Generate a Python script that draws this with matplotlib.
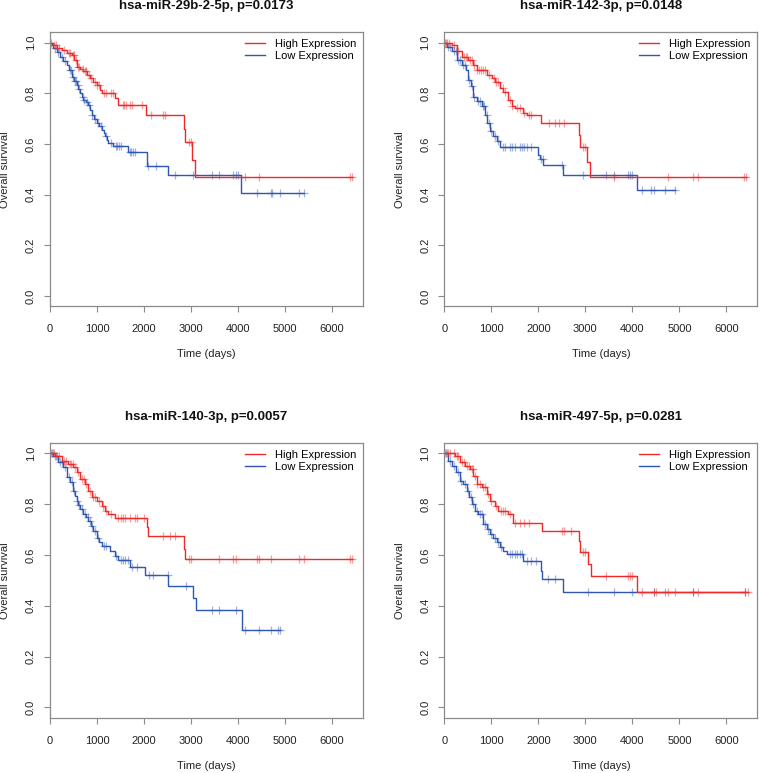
import numpy as np
import matplotlib
matplotlib.use("Agg")
import matplotlib.pyplot as plt

plt.rcParams['font.family'] = ['Liberation Sans', 'DejaVu Sans']

titles = ["hsa-miR-29b-2-5p, p=0.0173", "hsa-miR-142-3p, p=0.0148",
          "hsa-miR-140-3p, p=0.0057", "hsa-miR-497-5p, p=0.0281"]
legend_labels = ["High Expression", "Low Expression"]
x_ticks = [0, 1000, 2000, 3000, 4000, 5000, 6000]
y_ticks = [0.0, 0.2, 0.4, 0.6, 0.8, 1.0]

# hsa-miR-29b-2-5p
hi1_t = [60, 150, 250, 354, 460, 520, 567, 640, 708, 780, 850, 920, 990, 1062, 1110, 1380, 1450, 2040, 2860, 2880, 3010, 3080]
hi1_s = [0.99, 0.98, 0.97, 0.96, 0.95, 0.93, 0.905, 0.895, 0.886, 0.873, 0.86, 0.846, 0.833, 0.814, 0.80, 0.78, 0.755, 0.715, 0.66, 0.606, 0.535, 0.47]
hi1_c = [30, 80, 120, 200, 300, 400, 430, 480, 500, 550, 600, 620, 700, 750, 770, 820, 880, 950, 1000, 1050, 1150, 1200, 1300, 1350,
         1550, 1580, 1620, 1700, 1750, 1950, 2150, 2400, 2450, 2950, 3000, 4150, 4450, 6380, 6420]
lo1_t = [40, 71, 140, 212, 280, 354, 400, 460, 510, 567, 600, 637, 680, 708, 760, 814, 850, 885, 940, 990, 1040, 1098, 1140, 1170,
         1210, 1240, 1345, 1664, 2054, 2514, 4072]
lo1_s = [0.99, 0.978, 0.962, 0.945, 0.928, 0.912, 0.89, 0.866, 0.85, 0.833, 0.815, 0.80, 0.787, 0.774, 0.765, 0.755, 0.735, 0.715,
         0.698, 0.682, 0.67, 0.656, 0.643, 0.63, 0.617, 0.604, 0.59, 0.567, 0.512, 0.476, 0.407]
lo1_c = [100, 180, 250, 320, 420, 450, 480, 530, 560, 590, 620, 700, 720, 790, 830, 900, 960, 1020, 1080, 1200, 1300, 1400, 1430,
         1470, 1500, 1700, 1730, 1760, 1800, 2080, 2250, 2650, 3050, 3450, 3600, 3900, 3950, 4000, 4400, 4700, 4730, 4900, 5300, 5400]

# hsa-miR-142-3p
hi2_t = [156, 262, 369, 510, 617, 688, 900, 1007, 1078, 1184, 1255, 1362, 1433, 1504, 1681, 1752, 2057, 2865, 2890, 3043, 3100]
hi2_s = [0.99, 0.965, 0.945, 0.93, 0.912, 0.892, 0.873, 0.86, 0.846, 0.82, 0.807, 0.774, 0.748, 0.741, 0.722, 0.715, 0.682,
         0.636, 0.587, 0.528, 0.47]
hi2_c = [20, 40, 60, 100, 200, 300, 420, 460, 480, 550, 580, 640, 700, 740, 780, 830, 870, 950, 1050, 1100, 1150, 1250, 1300,
         1400, 1450, 1550, 1600, 1700, 1800, 1850, 2230, 2350, 2450, 2550, 2950, 3000, 3600, 4750, 5300, 5400, 6380, 6420]
lo2_t = [50, 156, 262, 369, 461, 510, 560, 617, 688, 794, 865, 915, 972, 1043, 1113, 1184, 2000, 2035, 2106, 2518, 4092]
lo2_s = [0.984, 0.965, 0.93, 0.912, 0.892, 0.853, 0.827, 0.787, 0.768, 0.748, 0.715, 0.682, 0.65, 0.63, 0.61, 0.587, 0.558,
         0.54, 0.518, 0.476, 0.417]
lo2_c = [80, 120, 200, 240, 300, 340, 400, 430, 530, 590, 640, 720, 750, 820, 840, 900, 950, 1000, 1080, 1150, 1250, 1300, 1400,
         1450, 1500, 1600, 1650, 1700, 1750, 1850, 2050, 2100, 2500, 2950, 3450, 3600, 3900, 3950, 4000, 4200, 4400, 4450, 4700, 4900]

# hsa-miR-140-3p
hi3_t = [106, 248, 390, 496, 567, 638, 745, 816, 887, 993, 1099, 1170, 1241, 1383, 2057, 2080, 2858, 2880]
hi3_s = [0.99, 0.971, 0.958, 0.945, 0.925, 0.899, 0.879, 0.853, 0.827, 0.814, 0.794, 0.774, 0.761, 0.744, 0.709, 0.673, 0.623, 0.584]
hi3_c = [30, 60, 90, 150, 200, 300, 350, 420, 450, 480, 530, 600, 680, 720, 770, 850, 920, 950, 1050, 1120, 1200, 1300, 1450,
         1500, 1550, 1600, 1700, 1800, 1850, 2000, 2400, 2550, 2650, 2950, 3000, 3600, 3900, 3950, 4400, 4450, 4700, 5300, 5400,
         6380, 6420]
lo3_t = [71, 177, 284, 355, 426, 496, 530, 567, 600, 638, 709, 760, 816, 870, 922, 993, 1050, 1099, 1277, 1383, 1454, 1702,
         2021, 2518, 3050, 3100, 4078]
lo3_s = [0.99, 0.965, 0.945, 0.906, 0.886, 0.853, 0.833, 0.814, 0.797, 0.781, 0.761, 0.748, 0.735, 0.715, 0.696, 0.669, 0.652,
         0.636, 0.617, 0.597, 0.581, 0.551, 0.521, 0.479, 0.43, 0.383, 0.306]
lo3_c = [50, 100, 130, 220, 250, 320, 400, 460, 520, 580, 620, 680, 740, 800, 850, 900, 950, 1020, 1150, 1200, 1400, 1500, 1550,
         1600, 1650, 1750, 1850, 2100, 2200, 2500, 2900, 3450, 3600, 3950, 4150, 4450, 4700, 4850, 4900]

# hsa-miR-497-5p
hi4_t = [227, 333, 440, 546, 617, 688, 794, 901, 972, 1078, 1149, 1362, 1468, 2085, 2865, 2890, 3064, 3113, 4092]
hi4_s = [0.99, 0.965, 0.951, 0.938, 0.912, 0.879, 0.866, 0.84, 0.814, 0.794, 0.774, 0.761, 0.728, 0.696, 0.656, 0.612, 0.564,
         0.518, 0.453]
hi4_c = [20, 50, 80, 120, 200, 260, 300, 380, 420, 480, 520, 580, 600, 650, 700, 750, 820, 860, 940, 1000, 1100, 1200, 1250,
         1300, 1400, 1500, 1600, 1700, 1800, 2500, 2550, 2700, 2950, 3000, 3450, 3900, 3950, 4000, 4200, 4450, 4500, 4750, 4900,
         5300, 5400, 6400, 6450]
lo4_t = [85, 156, 248, 333, 404, 475, 532, 582, 652, 723, 830, 901, 972, 1043, 1113, 1184, 1241, 1326, 1681, 2050, 2070, 2518]
lo4_s = [0.971, 0.951, 0.925, 0.892, 0.879, 0.853, 0.827, 0.80, 0.774, 0.761, 0.722, 0.702, 0.682, 0.669, 0.652, 0.63, 0.617,
         0.604, 0.577, 0.538, 0.507, 0.453]
lo4_c = [40, 120, 200, 300, 360, 450, 500, 560, 620, 700, 760, 800, 870, 940, 1000, 1080, 1150, 1210, 1400, 1450, 1500, 1550,
         1600, 1650, 1750, 1850, 1950, 2200, 2350, 3050, 3600, 4000, 4450, 4700, 5300, 6400]

panels = [
    (titles[0], (hi1_t, hi1_s, hi1_c), (lo1_t, lo1_s, lo1_c)),
    (titles[1], (hi2_t, hi2_s, hi2_c), (lo2_t, lo2_s, lo2_c)),
    (titles[2], (hi3_t, hi3_s, hi3_c), (lo3_t, lo3_s, lo3_c)),
    (titles[3], (hi4_t, hi4_s, hi4_c), (lo4_t, lo4_s, lo4_c)),
]

red = '#ee2a2a'
blue = '#2f56b0'
gray = '#8a8a8a'

# axes boxes in figure fractions (left, bottom, width, height)
boxes = [(0.0658, 0.604, 0.412, 0.354), (0.5846, 0.604, 0.412, 0.354),
         (0.0658, 0.0716, 0.412, 0.355), (0.5846, 0.0716, 0.412, 0.355)]


def km_curve(ax, t, s, c, color):
    t = np.asarray(t, float)
    s = np.asarray(s, float)
    c = np.asarray(c, float)
    end = max(c.max(), t.max())
    xs = np.r_[0, t, end]
    ys = np.r_[1.0, s, s[-1]]
    line, = ax.step(xs, ys, where='post', color=color, lw=1.0)
    idx = np.searchsorted(t, c, side='right')
    sc = np.r_[1.0, s][idx]
    ax.plot(c, sc, '+', color=color, ms=6, mew=0.9, alpha=0.45)
    return line


fig = plt.figure(figsize=(7.6, 7.73), dpi=100)
for box, (title, hi, lo) in zip(boxes, panels):
    ax = fig.add_axes(box)
    l2 = km_curve(ax, *lo, blue)
    l1 = km_curve(ax, *hi, red)
    ax.set_xlim(0, 6660)
    ax.set_ylim(-0.04, 1.04)
    ax.set_xticks(x_ticks)
    ax.set_yticks(y_ticks)
    ax.set_yticklabels(["%.1f" % v for v in y_ticks], rotation=90, va='center')
    ax.tick_params(axis='both', direction='out', length=4, width=0.8, color=gray,
                   labelsize=8, labelcolor='#222222')
    ax.tick_params(axis='x', pad=9)
    ax.tick_params(axis='y', pad=6)
    for sp in ax.spines.values():
        sp.set_color(gray)
        sp.set_linewidth(0.9)
    ax.text(0.5, 1.095, title, transform=ax.transAxes, ha='center', va='center',
            fontsize=9.5, fontweight='bold', color='#111111')
    ax.text(0.5, -0.175, "Time (days)", transform=ax.transAxes, ha='center', va='center',
            fontsize=8, color='#222222')
    ax.text(-0.143, 0.5, "Overall survival", transform=ax.transAxes, ha='center', va='center',
            rotation=90, fontsize=8, color='#222222')
    ax.legend([l1, l2], legend_labels, loc='upper right', frameon=False, fontsize=8,
              handlelength=1.8, handletextpad=0.9, labelspacing=0.2,
              borderaxespad=0.3, borderpad=0.3)

fig.savefig("out.png", dpi=100)
